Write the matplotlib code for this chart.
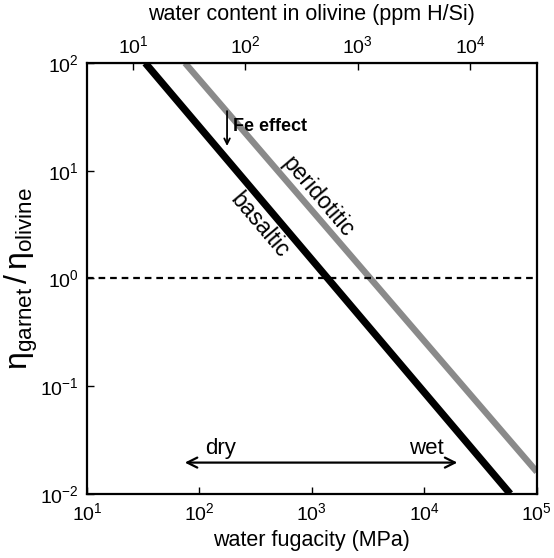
import numpy as np
import matplotlib
matplotlib.use('Agg')
import matplotlib.pyplot as plt
from matplotlib.ticker import LogLocator, FixedLocator, NullLocator

plt.rcParams['font.family'] = ['Liberation Sans', 'DejaVu Sans']
plt.rcParams['mathtext.fontset'] = 'custom'
plt.rcParams['mathtext.rm'] = 'Liberation Sans'
plt.rcParams['mathtext.it'] = 'Liberation Sans'
plt.rcParams['axes.unicode_minus'] = False

# viscosity contrast lines (water fugacity in MPa vs eta_garnet/eta_olivine)
basaltic_f = [33, 58000]
basaltic_eta = [100, 0.01]
peridotitic_f = [74.5, 100000]
peridotitic_eta = [100, 0.016]

# water content in olivine (ppm H/Si) per MPa of water fugacity
c_per_f = 0.39
top_ticks = [10, 100, 1000, 10000]

fig = plt.figure(figsize=(5.54, 5.58), dpi=100)
ax = fig.add_axes([0.157, 0.115, 0.812, 0.772])

ax.plot(peridotitic_f, peridotitic_eta, color='#8a8a8a', lw=4.6, solid_capstyle='butt')
ax.plot(basaltic_f, basaltic_eta, color='black', lw=5.2, solid_capstyle='butt')
ax.axhline(1, color='black', lw=1.6, dashes=(3, 2.2))

ax.set_xscale('log')
ax.set_yscale('log')
ax.set_xlim(10, 1e5)
ax.set_ylim(1e-2, 1e2)
ax.xaxis.set_major_locator(LogLocator(base=10, numticks=10))
ax.yaxis.set_major_locator(LogLocator(base=10, numticks=10))
ax.xaxis.set_minor_locator(NullLocator())
ax.yaxis.set_minor_locator(NullLocator())
ax.tick_params(direction='in', length=5, width=1, labelsize=14, pad=6)
for s in ax.spines.values():
    s.set_linewidth(1.6)

ax.set_xlabel('water fugacity (MPa)', fontsize=15.5, labelpad=4)
ax.set_ylabel(r'$\mathrm{\eta}_{\rm garnet}\,/\,\mathrm{\eta}_{\rm olivine}$',
              fontsize=23, labelpad=0)

top = ax.secondary_xaxis('top', functions=(lambda f: f * c_per_f, lambda c: c / c_per_f))
top.xaxis.set_major_locator(FixedLocator(top_ticks))
top.xaxis.set_minor_locator(NullLocator())
top.tick_params(direction='in', length=5, width=1, labelsize=14, pad=4)
top.set_xlabel('water content in olivine (ppm H/Si)', fontsize=15.5, labelpad=11)

# line labels
ang = -49.7
ax.text(1135, 5.7, 'peridotitic', rotation=ang, rotation_mode='anchor',
        ha='center', va='center', fontsize=16.5)
ax.text(346, 3.14, 'basaltic', rotation=ang, rotation_mode='anchor',
        ha='center', va='center', fontsize=16.5)

# Fe effect
ax.annotate('', xy=(176, 16.0), xytext=(176, 38),
            arrowprops=dict(arrowstyle='->', color='black', lw=1.3))
ax.text(200, 25.5, 'Fe effect', fontsize=13, fontweight='bold', ha='left', va='center')

# dry / wet
ax.annotate('', xy=(70, 0.0195), xytext=(20800, 0.0195),
            arrowprops=dict(arrowstyle='<->', color='black', lw=1.6,
                            mutation_scale=18))
ax.text(155, 0.0262, 'dry', fontsize=16, ha='center', va='center')
ax.text(10400, 0.0262, 'wet', fontsize=16, ha='center', va='center')

fig.savefig('out.png', dpi=100)
